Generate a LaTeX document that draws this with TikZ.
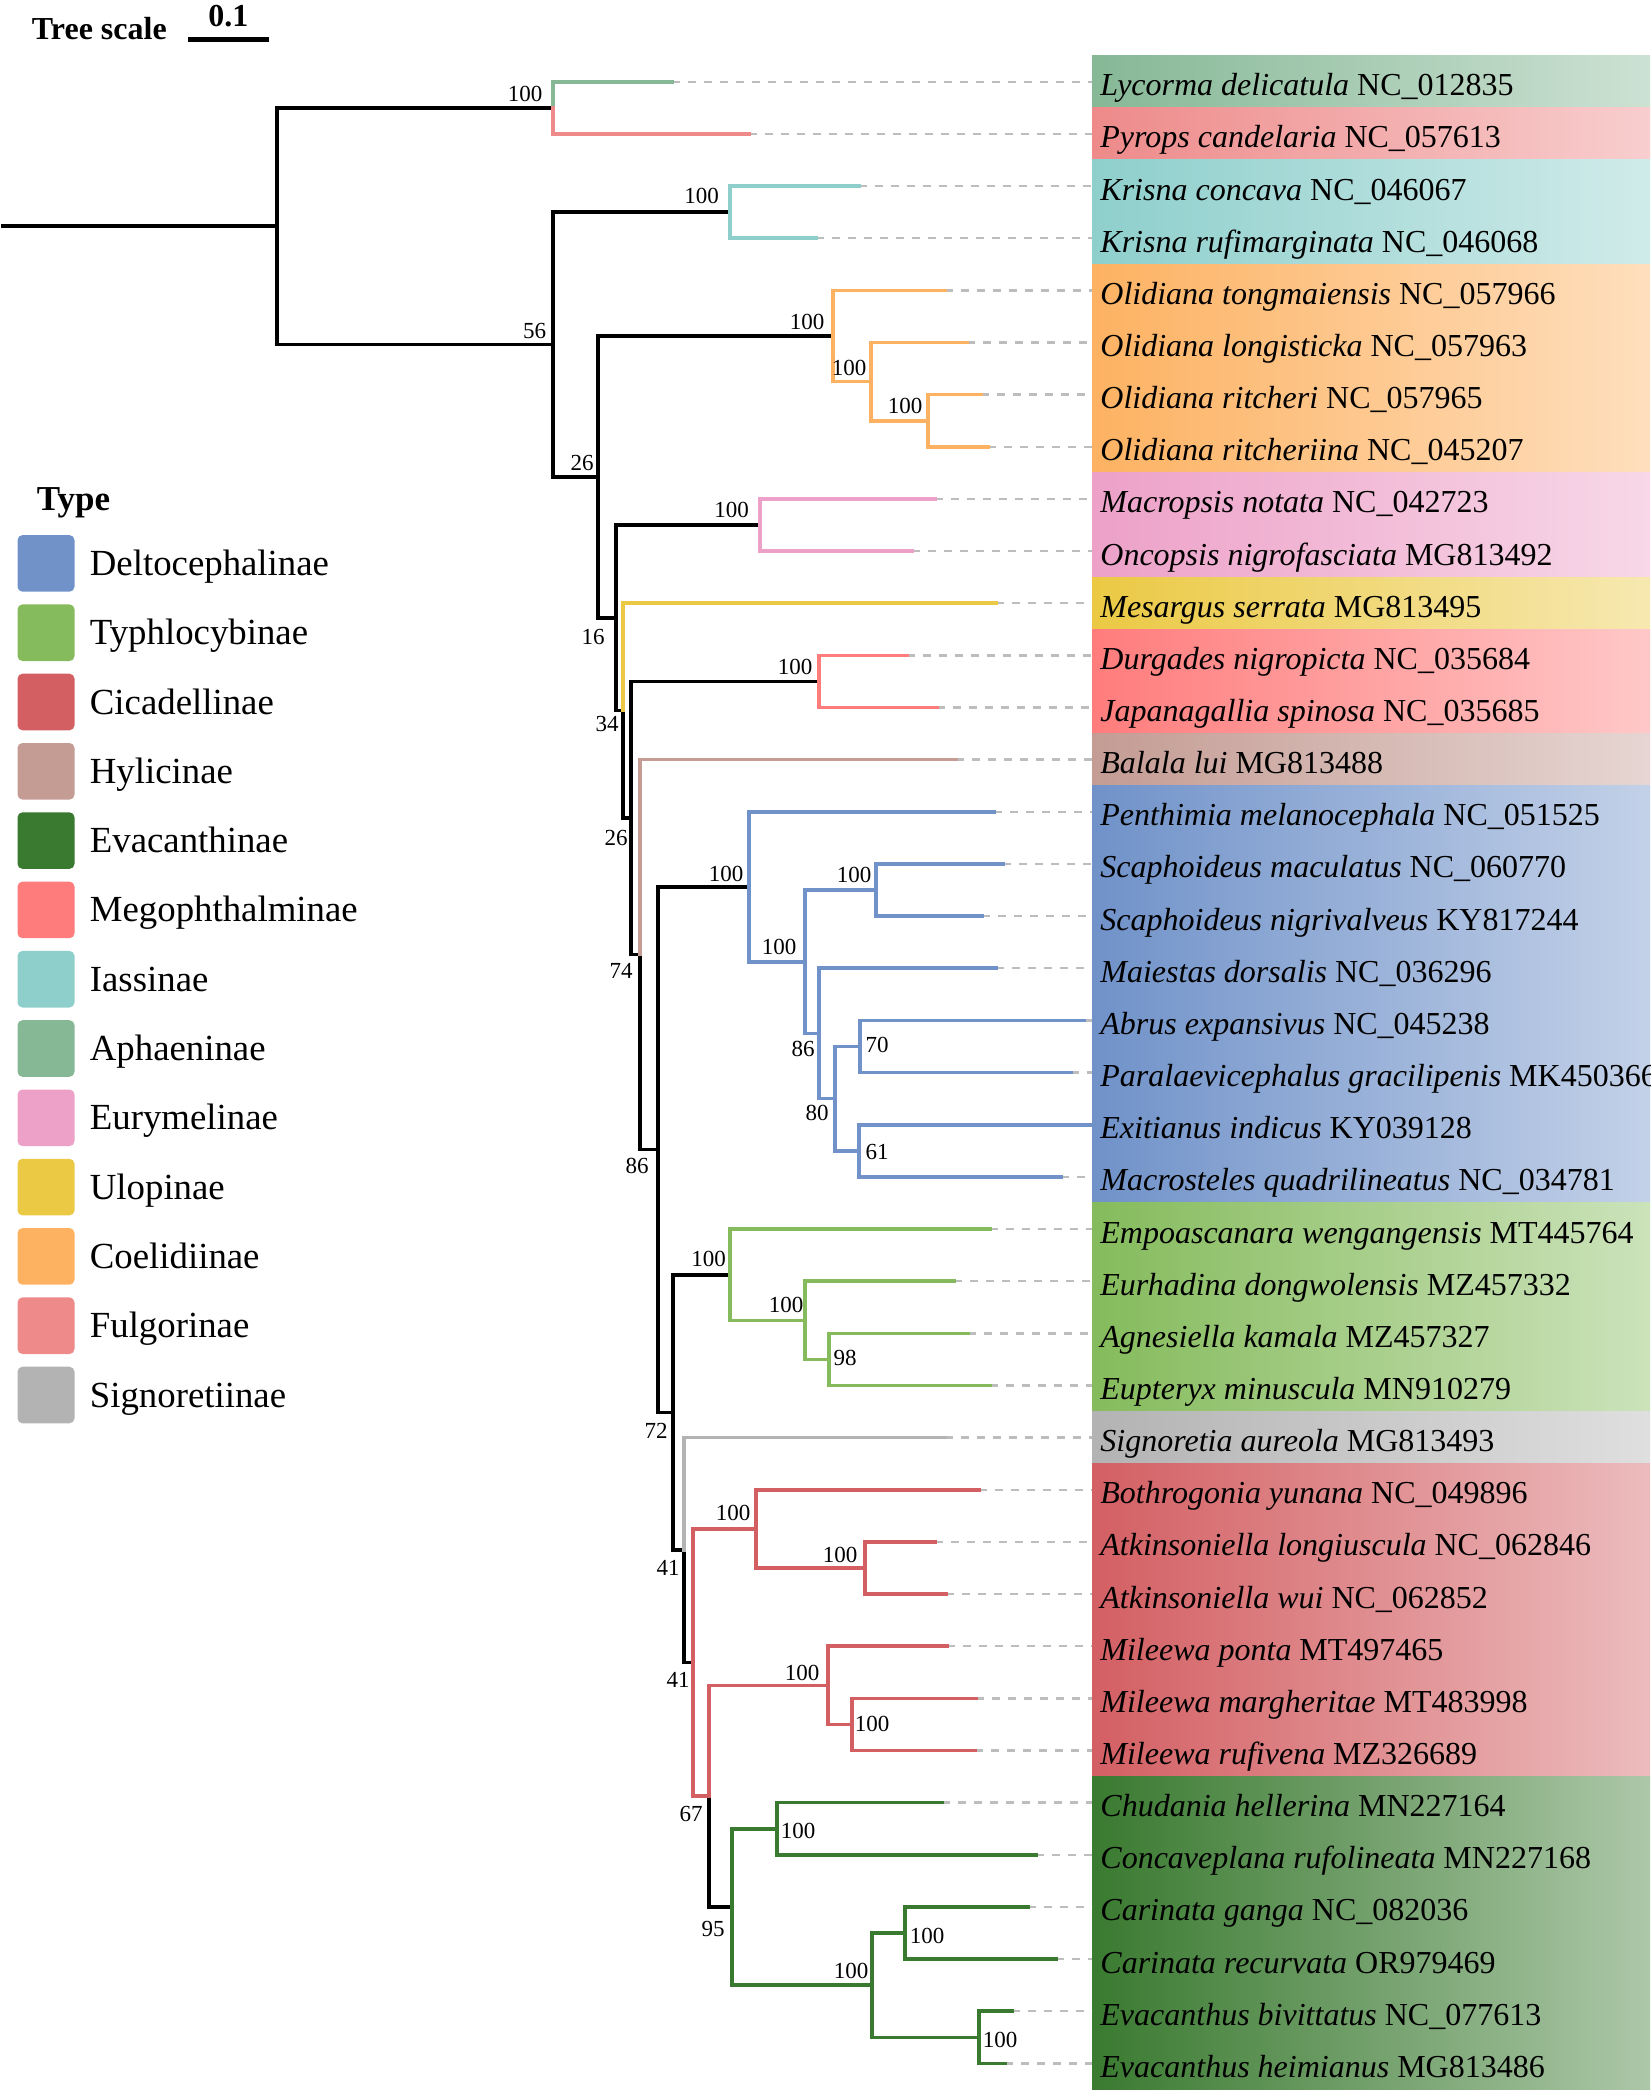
\documentclass[tikz,border=0pt]{standalone}
\usepackage{fontspec}
\setmainfont{Liberation Serif}
\definecolor{delto}{RGB}{112,146,201}
\definecolor{typhlo}{RGB}{133,187,92}
\definecolor{cicad}{RGB}{211,95,99}
\definecolor{hylic}{RGB}{196,156,148}
\definecolor{evac}{RGB}{58,122,48}
\definecolor{megop}{RGB}{255,124,124}
\definecolor{iassi}{RGB}{142,207,204}
\definecolor{aphae}{RGB}{134,184,150}
\definecolor{eurym}{RGB}{237,161,200}
\definecolor{ulopi}{RGB}{235,201,68}
\definecolor{coeli}{RGB}{253,178,98}
\definecolor{fulgo}{RGB}{238,138,138}
\definecolor{signo}{RGB}{179,179,179}
\begin{document}
\begin{tikzpicture}[x=0.5pt,y=-0.5pt,
  br/.style={line width=1.8pt,line cap=rect},
  dashline/.style={draw=black!26,line width=1.2pt,dash pattern=on 4pt off 4pt},
  taxon/.style={anchor=base west,inner sep=0pt,font=\fontsize{16}{19}\selectfont},
  bs/.style={inner sep=0pt,font=\fontsize{11.5}{13}\selectfont},
  legbox/.style={minimum width=28.5pt,minimum height=28.3pt,rounded corners=2.5pt,inner sep=0pt},
  legtext/.style={anchor=base west,inner sep=0pt,font=\fontsize{18.4}{22}\selectfont}]
\useasboundingbox (0,0) rectangle (1650,2093);
\foreach \a/\b/\c in {0/0/aphae,1/1/fulgo,2/3/iassi,4/7/coeli,8/9/eurym,10/10/ulopi,11/12/megop,13/13/hylic,14/21/delto,22/25/typhlo,26/26/signo,27/32/cicad,33/38/evac}{
  \pgfmathsetmacro\ya{81.7+52.15*\a-26.075}
  \pgfmathsetmacro\yb{81.7+52.15*\b+26.075}
  \shade[left color=\c,right color=\c!42!white] (1092,\ya) rectangle (1650,\yb);
}
\coordinate (r0) at (3,226.1);
\coordinate (r) at (277,226.1);
\coordinate (n1) at (553,107.8);
\coordinate (n2) at (553,344.5);
\coordinate (nK) at (730,212.1);
\coordinate (n3) at (598,476.9);
\coordinate (nO) at (833,336);
\coordinate (nO2) at (871,381.6);
\coordinate (nO3) at (928,420.7);
\coordinate (n4) at (616,617.8);
\coordinate (nM) at (760,525);
\coordinate (n5) at (623,710.6);
\coordinate (n6) at (631,818);
\coordinate (nG) at (819,681.4);
\coordinate (n7) at (640,954.6);
\coordinate (n8) at (658,1149.6);
\coordinate (nD1) at (749,886.8);
\coordinate (nD2) at (805,961.7);
\coordinate (nD3) at (876,890);
\coordinate (nD4) at (819,1033.5);
\coordinate (nD5) at (835,1098.6);
\coordinate (nD6) at (860,1046.5);
\coordinate (nD7) at (859,1150.8);
\coordinate (n9) at (673,1412.4);
\coordinate (nT1) at (730,1274.7);
\coordinate (nT2) at (805,1320.3);
\coordinate (nT3) at (829,1359.4);
\coordinate (n10) at (684,1550);
\coordinate (n11) at (693,1662.5);
\coordinate (nC1) at (756,1528.9);
\coordinate (nC2) at (865,1568);
\coordinate (n12) at (709,1796.1);
\coordinate (nC3) at (828,1685.3);
\coordinate (nC4) at (852,1724.4);
\coordinate (n13) at (732,1907);
\coordinate (nE1) at (777,1828.7);
\coordinate (nE2) at (872,1985.2);
\coordinate (nE3) at (905,1933);
\coordinate (nE4) at (979,2037.4);
\draw[br] (r0) -- (r);
\foreach \p/\q in {r/n1,r/n2,n2/nK,n2/n3,n3/nO,n3/n4,n4/nM,n4/n5,n5/n6,n6/nG,n6/n7,n7/n8,n8/nD1,n8/n9,n9/nT1,n9/n10,n10/n11,n12/n13}
  \draw[br] (\p) |- (\q);
\foreach \p/\q/\c in {nO/nO2/coeli,nO2/nO3/coeli,nD1/nD2/delto,nD2/nD3/delto,nD2/nD4/delto,nD4/nD5/delto,nD5/nD6/delto,nD5/nD7/delto,nT1/nT2/typhlo,nT2/nT3/typhlo,n11/nC1/cicad,n11/n12/cicad,nC1/nC2/cicad,n12/nC3/cicad,nC3/nC4/cicad,n13/nE1/evac,n13/nE2/evac,nE2/nE3/evac,nE2/nE4/evac}
  \draw[br,\c] (\p) |- (\q);
\foreach \i/\tip/\c/\p/\sp/\acc in {
  0/672/aphae/n1/Lycorma delicatula/NC\_012835,
  1/749/fulgo/n1/Pyrops candelaria/NC\_057613,
  2/859/iassi/nK/Krisna concava/NC\_046067,
  3/816/iassi/nK/Krisna rufimarginata/NC\_046068,
  4/945/coeli/nO/Olidiana tongmaiensis/NC\_057966,
  5/967/coeli/nO2/Olidiana longisticka/NC\_057963,
  6/981/coeli/nO3/Olidiana ritcheri/NC\_057965,
  7/988/coeli/nO3/Olidiana ritcheriina/NC\_045207,
  8/935/eurym/nM/Macropsis notata/NC\_042723,
  9/912/eurym/nM/Oncopsis nigrofasciata/MG813492,
  10/996/ulopi/n5/Mesargus serrata/MG813495,
  11/907/megop/nG/Durgades nigropicta/NC\_035684,
  12/937/megop/nG/Japanagallia spinosa/NC\_035685,
  13/956/hylic/n7/Balala lui/MG813488,
  14/994/delto/nD1/Penthimia melanocephala/NC\_051525,
  15/1003/delto/nD3/Scaphoideus maculatus/NC\_060770,
  16/982/delto/nD3/Scaphoideus nigrivalveus/KY817244,
  17/996/delto/nD4/Maiestas dorsalis/NC\_036296,
  18/1084/delto/nD6/Abrus expansivus/NC\_045238,
  19/1071/delto/nD6/Paralaevicephalus gracilipenis/MK450366,
  20/1092/delto/nD7/Exitianus indicus/KY039128,
  21/1061/delto/nD7/Macrosteles quadrilineatus/NC\_034781,
  22/990/typhlo/nT1/Empoascanara wengangensis/MT445764,
  23/954/typhlo/nT2/Eurhadina dongwolensis/MZ457332,
  24/968/typhlo/nT3/Agnesiella kamala/MZ457327,
  25/990/typhlo/nT3/Eupteryx minuscula/MN910279,
  26/945/signo/n10/Signoretia aureola/MG813493,
  27/979/cicad/nC1/Bothrogonia yunana/NC\_049896,
  28/935/cicad/nC2/Atkinsoniella longiuscula/NC\_062846,
  29/946/cicad/nC2/Atkinsoniella wui/NC\_062852,
  30/947/cicad/nC3/Mileewa ponta/MT497465,
  31/976/cicad/nC4/Mileewa margheritae/MT483998,
  32/975/cicad/nC4/Mileewa rufivena/MZ326689,
  33/942/evac/nE1/Chudania hellerina/MN227164,
  34/1036/evac/nE1/Concaveplana rufolineata/MN227168,
  35/1028/evac/nE3/Carinata ganga/NC\_082036,
  36/1056/evac/nE3/Carinata recurvata/OR979469,
  37/1012/evac/nE4/Evacanthus bivittatus/NC\_077613,
  38/1005/evac/nE4/Evacanthus heimianus/MG813486}{
  \pgfmathsetmacro\yy{81.7+52.15*\i}
  \coordinate (l\i) at (\tip,\yy);
  \coordinate (e\i) at (1092,\yy);
  \draw[dashline] (l\i) -- (e\i);
  \draw[br,\c] (\p) |- (l\i);
  \node[taxon] (t\i) at (1100,\yy+14) {\textit{\sp} \acc};
}
\foreach \n/\x/\y/\v in {b1/525/94/100,bK/701.5/196/100,b2/534.5/331/56,b3/582/463/26,bO/807/322/100,bO2/849/368/100,bO3/905/406/100,bM/731.6/510/100,b4/593/637/16,bG/795/667/100,b5/607/724/34,b6/616/838/26,bD1/726/874/100,bD3/854/875/100,b7/621/971/74,bD2/779/947/100,bD4/803/1049/86,bD6/877/1045/70,bD5/817/1113/80,bD7/877/1152/61,b8/637/1166/86,bT1/708.5/1259/100,bT2/786/1305/100,bT3/845/1358/98,b9/656/1431/72,b10/668/1568/41,bC1/733/1513/100,bC2/840/1555/100,b11/678/1680/41,bC3/802/1673/100,bC4/872/1724/100,b12/691/1814/67,bE1/798/1831/100,b13/713/1929/95,bE3/927/1936/100,bE2/851/1971/100,bE4/1000/2040/100}
  \node[bs] (\n) at (\x,\y) {\v};
\node[font=\bfseries\fontsize{17.5}{21}\selectfont,anchor=base west,inner sep=0pt] (type) at (36.5,510) {Type};
\foreach \i/\c/\t in {0/delto/Deltocephalinae,1/typhlo/Typhlocybinae,2/cicad/Cicadellinae,3/hylic/Hylicinae,4/evac/Evacanthinae,5/megop/Megophthalminae,6/iassi/Iassinae,7/aphae/Aphaeninae,8/eurym/Eurymelinae,9/ulopi/Ulopinae,10/coeli/Coelidiinae,11/fulgo/Fulgorinae,12/signo/Signoretiinae}{
  \node[legbox,fill=\c] (k\i) at (46,563.4+69.3*\i) {};
  \node[legtext] (kt\i) at ([xshift=7.3pt,yshift=-6pt]k\i.east) {\t};
}
\node[font=\bfseries\fontsize{16}{19}\selectfont,anchor=base west,inner sep=0pt] (tsl) at (31.6,39.5) {Tree scale};
\coordinate (sb1) at (188,39.5);
\coordinate (sb2) at (268.7,39.5);
\draw[line width=2.2pt] (sb1) -- (sb2);
\node[font=\bfseries\fontsize{16}{19}\selectfont,anchor=base,inner sep=0pt] (tsv) at (228.4,26.7) {0.1};
\end{tikzpicture}
\end{document}
